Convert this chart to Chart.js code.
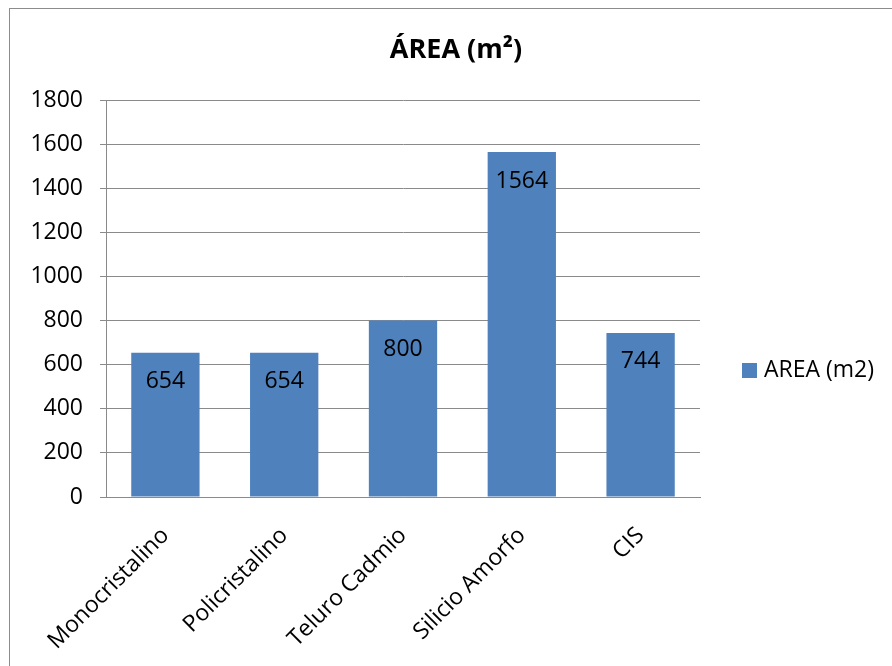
<!DOCTYPE html>
<html>
<head>
<meta charset="utf-8">
<script src="https://cdn.jsdelivr.net/npm/chart.js@4"></script>
<style>
  html, body { margin: 0; padding: 0; background: #fff; }
  #wrap { position: relative; width: 892px; height: 666px; overflow: hidden; }
  #frame { position: absolute; left: 9px; top: 8px; width: 900px; height: 700px; border: 1px solid #8c8c8c; box-sizing: border-box; }
  canvas { position: absolute; left: 0; top: 0; }
</style>
</head>
<body>
<div id="wrap">
  <div id="frame"></div>
  <canvas id="c" width="892" height="666"></canvas>
</div>
<script>
const categories = ['Monocristalino', 'Policristalino', 'Teluro Cadmio', 'Silicio Amorfo', 'CIS'];
const areaValues = [654, 654, 800, 1564, 744];
const yTicks = [0, 200, 400, 600, 800, 1000, 1200, 1400, 1600, 1800];
const seriesName = 'AREA (m2)';
const titleText = 'ÁREA (m²)';

const FONT = '"Open Sans", Lato, "Liberation Sans", sans-serif';
const BAR = '#4f81bd';
const GRID = '#8a8a8a';

// Value labels inside the top of each bar
const barLabels = {
  id: 'barLabels',
  afterDatasetsDraw(chart) {
    const ctx = chart.ctx;
    const meta = chart.getDatasetMeta(0);
    ctx.save();
    ctx.font = '23px ' + FONT;
    ctx.fillStyle = '#000';
    ctx.textAlign = 'center';
    ctx.textBaseline = 'middle';
    meta.data.forEach((bar, i) => {
      ctx.fillText(String(areaValues[i]), bar.x, bar.y + 29);
    });
    ctx.restore();
  }
};

// Title and legend drawn at fixed spots around the plot
const decorations = {
  id: 'decorations',
  afterDraw(chart) {
    const ctx = chart.ctx;
    ctx.save();
    ctx.fillStyle = '#000';
    ctx.textBaseline = 'middle';
    ctx.textAlign = 'center';
    ctx.font = 'bold 27px ' + FONT;
    ctx.fillText(titleText, 456, 50);

    ctx.fillStyle = BAR;
    ctx.fillRect(742, 363, 15, 15);
    ctx.fillStyle = '#000';
    ctx.textAlign = 'left';
    ctx.font = '23px ' + FONT;
    ctx.fillText(seriesName, 764, 370);
    ctx.restore();
  }
};

new Chart(document.getElementById('c'), {
  type: 'bar',
  data: {
    labels: categories,
    datasets: [{
      label: seriesName,
      data: areaValues,
      backgroundColor: BAR,
      borderWidth: 0,
      categoryPercentage: 1,
      barPercentage: 0.575
    }]
  },
  options: {
    responsive: false,
    animation: false,
    layout: { padding: { left: 0, right: 192, top: 100, bottom: 0 } },
    plugins: {
      legend: { display: false },
      title: { display: false },
      tooltip: { enabled: false }
    },
    scales: {
      x: {
        afterFit(scale) { scale.height = 169; },
        grid: { display: false, drawTicks: false },
        border: { display: true, color: GRID, width: 1 },
        ticks: {
          color: '#000',
          font: { family: FONT, size: 23 },
          minRotation: 45,
          maxRotation: 45,
          padding: 25
        }
      },
      y: {
        min: 0,
        max: 1800,
        afterFit(scale) { scale.width = 106; },
        afterBuildTicks(scale) { scale.ticks = yTicks.map(v => ({ value: v })); },
        grid: { color: GRID, tickLength: 6, lineWidth: 1 },
        border: { display: true, color: GRID, width: 1 },
        ticks: {
          color: '#000',
          font: { family: FONT, size: 23 },
          padding: 17,
          callback: (v) => String(v)
        }
      }
    }
  },
  plugins: [barLabels, decorations]
});
</script>
</body>
</html>
